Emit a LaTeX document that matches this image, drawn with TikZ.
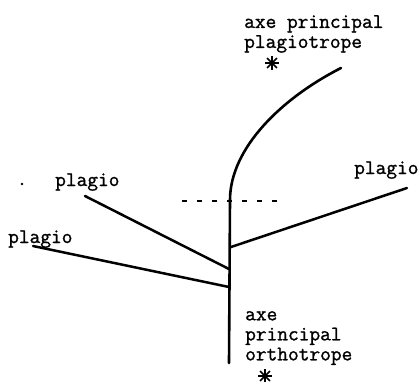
\documentclass[tikz,border=0pt]{standalone}
\usepackage{fontspec}
\usepackage{tikz}
\usetikzlibrary{positioning}
\newfontfamily\machine[FakeBold=1.2]{Latin Modern Mono}
\tikzset{
  axe/.style={line width=2.6pt, line cap=round},
  branche/.style={line width=2.5pt, line cap=round},
  repere/.style={line width=2pt, dash pattern=on 5pt off 10pt},
  etiquette/.style={font=\fontsize{20.8}{20}\selectfont\machine, inner sep=0pt, align=left},
  etoile/.style={minimum size=14pt, inner sep=0pt, path picture={
      \foreach \a in {0,45,90,135}
        \draw[line width=1.7pt] ([shift={(\a:7pt)}]path picture bounding box.center) -- ([shift={(\a+180:7pt)}]path picture bounding box.center);}}
}
\begin{document}
\begin{tikzpicture}[x=1pt, y=-1pt]
      \useasboundingbox (0,0) rectangle (420,381);
      % axe principal
      \coordinate (base) at (229,363);
      \coordinate (coude) at (230,200);
      \coordinate (sommet) at (341,68);
      \draw[axe] (base) -- (coude) .. controls (230,148) and (282,98) .. (sommet);
      % points d'insertion des branches
      \coordinate (ins1) at (229,269);
      \coordinate (ins2) at (229,287);
      \coordinate (ins3) at (231,247);
      \coordinate (bout1) at (85,196);
      \coordinate (bout2) at (33,246);
      \coordinate (bout3) at (407,188);
      \draw[branche] (bout1) -- (ins1);
      \draw[branche] (bout2) -- (ins2);
      \draw[branche] (ins3) -- (bout3);
      % repere horizontal
      \coordinate (rg) at (182,201);
      \coordinate (rd) at (282,201);
      \draw[repere] (rg) -- (rd);
      % textes
      \node[etiquette, anchor=base west] (plagio1) at (55,186) {plagio};
      \node[etiquette, anchor=base west] (plagio2) at (8,243) {plagio};
      \node[etiquette, anchor=base west] (plagio3) at (354,174) {plagio};
      \node[circle, fill, inner sep=0pt, minimum size=2.8pt] (point) at (22,184) {};
      \node[etiquette, anchor=north west] (plagiot) at (244,15) {axe principal\\plagiotrope};
      \node[etiquette, anchor=north west] (orthot) at (245,311) {axe\\principal\\orthotrope};
      \node[etoile] (et1) at (272,63) {};
      \node[etoile] (et2) at (265,376) {};
    \end{tikzpicture}
\end{document}
